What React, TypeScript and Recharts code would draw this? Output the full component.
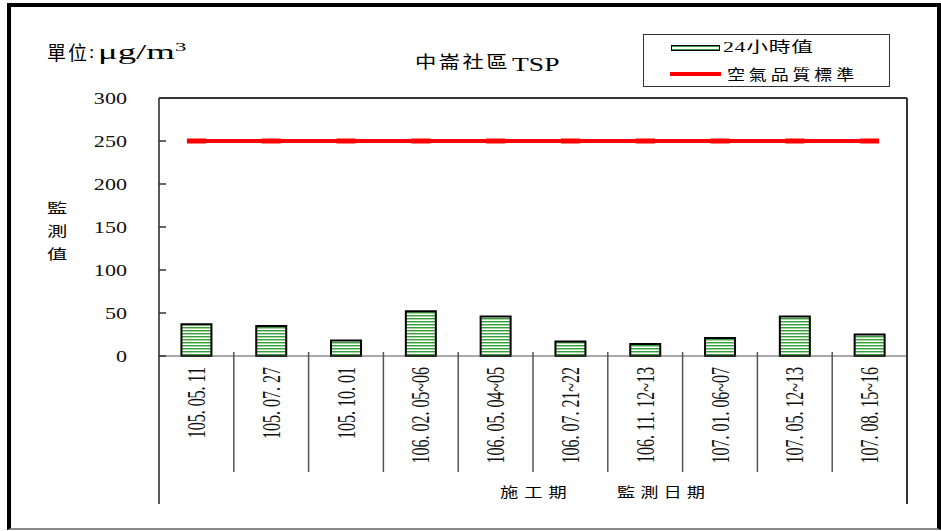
import {
  ComposedChart,
  Bar,
  Line,
  XAxis,
  YAxis,
  ReferenceLine,
} from "recharts";

const dates = [
  "105. 05. 11",
  "105. 07. 27",
  "105. 10. 01",
  "106. 02. 05~06",
  "106. 05. 04~05",
  "106. 07. 21~22",
  "106. 11. 12~13",
  "107. 01. 06~07",
  "107. 05. 12~13",
  "107. 08. 15~16",
];
const tsp24h = [37, 35, 18, 52, 46, 17, 14, 21, 46, 25];
const airStandard = [250, 250, 250, 250, 250, 250, 250, 250, 250, 250];
const yTicks = [0, 50, 100, 150, 200, 250, 300];
const yTitle = ["監", "測", "值"];

const rows = dates.map((d, i) => ({ date: d, tsp: tsp24h[i], std: airStandard[i] }));

const SERIF = "'Liberation Serif', 'Times New Roman', 'DejaVu Serif', 'Noto Sans CJK TC', serif";
const CJK = "'Noto Sans CJK TC', 'Liberation Serif', sans-serif";

// plain positioned text, stretched sideways like the source image
const Txt = ({ x, y, size, sx = 1, ls = 0, font = SERIF, children }: any) => (
  <div
    style={{
      position: "absolute",
      left: x,
      top: y,
      fontSize: size,
      lineHeight: 1,
      fontFamily: font,
      letterSpacing: ls,
      whiteSpace: "nowrap",
      color: "#000",
      transform: `scaleX(${sx})`,
      transformOrigin: "0 0",
    }}
  >
    {children}
  </div>
);

const DateTick = ({ x, y, payload, index, visibleTicksCount }: any) => {
  const half = payload.offset || 0;
  const first = index === 0;
  const last = index === visibleTicksCount - 1;
  return (
    <g>
      <line
        x1={x - half}
        x2={x - half}
        y1={first ? y : y - 4}
        y2={first ? y + 148 : y + 116}
        stroke={first ? "#222" : "#555"}
        strokeWidth={1.5}
      />
      {last && (
        <line x1={x + half} x2={x + half} y1={y} y2={y + 148} stroke="#333" strokeWidth={2} />
      )}
      <text
        transform={`translate(${x + 8.5},${y + 11}) rotate(-90) scale(1,1.6)`}
        textAnchor="end"
        fontFamily={SERIF}
        fontSize={16}
        fill="#111"
      >
        {payload.value}
      </text>
    </g>
  );
};

const ValueTick = ({ x, y, payload }: any) => (
  <g>
    <line x1={x} x2={x + 7} y1={y} y2={y} stroke="#333" strokeWidth={1.5} />
    <text
      transform={`translate(${x - 32},${y + 6}) scale(1.3,1)`}
      textAnchor="end"
      fontFamily={SERIF}
      fontSize={17}
      fill="#111"
    >
      {payload.value}
    </text>
  </g>
);

const DashDot = ({ cx, cy }: any) =>
  cx == null ? null : <rect x={cx - 9.5} y={cy - 2.5} width={19} height={5} fill="#ff0000" />;

export default function App() {
  return (
    <div style={{ position: "absolute", left: 0, top: 0, width: 941, height: 531, background: "#fff" }}>
      <ComposedChart
        width={941}
        height={531}
        data={rows}
        barCategoryGap="30%"
        margin={{ top: 98, right: 33, bottom: 27, left: 99 }}
      >
        <defs>
          <pattern id="stripes" width="4" height="3" patternUnits="userSpaceOnUse">
            <rect width="4" height="3" fill="#ffffff" />
            <rect y="0" width="4" height="1" fill="#3a9e3a" />
            <rect y="1" width="4" height="1" fill="#a6d6a6" />
          </pattern>
        </defs>
        <XAxis
          dataKey="date"
          interval={0}
          height={148}
          tickSize={0}
          tickMargin={0}
          tickLine={false}
          axisLine={{ stroke: "#555", strokeWidth: 1 }}
          tick={<DateTick />}
        />
        <YAxis
          yAxisId="v"
          domain={[0, 300]}
          ticks={yTicks}
          width={60}
          tickSize={0}
          tickMargin={0}
          tickLine={false}
          axisLine={{ stroke: "#222", strokeWidth: 1.5 }}
          tick={<ValueTick />}
        />
        <YAxis
          yAxisId="r"
          orientation="right"
          domain={[0, 300]}
          width={1}
          tick={false}
          tickLine={false}
          axisLine={{ stroke: "#333", strokeWidth: 2 }}
        />
        <ReferenceLine yAxisId="v" y={300} stroke="#333" strokeWidth={2} />
        <Bar
          yAxisId="v"
          dataKey="tsp"
          fill="url(#stripes)"
          stroke="#000"
          strokeWidth={2}
          isAnimationActive={false}
        />
        <Line
          yAxisId="v"
          dataKey="std"
          stroke="#ff0000"
          strokeWidth={4}
          dot={<DashDot />}
          activeDot={false}
          isAnimationActive={false}
        />
      </ComposedChart>

      {/* outer frame */}
      <div
        style={{
          position: "absolute",
          left: 7,
          top: 3,
          width: 934,
          height: 527,
          boxSizing: "border-box",
          borderTop: "4px solid #000",
          borderLeft: "4px solid #000",
          borderRight: "4px solid #000",
          borderBottom: "2px solid #888",
          pointerEvents: "none",
        }}
      />

      {/* unit */}
      <Txt x={47} y={42} size={19} ls={2} font={CJK}>單位</Txt>
      <Txt x={89} y={42} size={19}>:</Txt>
      <Txt x={98} y={42} size={21} sx={1.75}>
        μg/m<span style={{ fontSize: 13, verticalAlign: "top", position: "relative", top: -2 }}>3</span>
      </Txt>

      {/* title */}
      <Txt x={415} y={52} size={17} sx={1.25} ls={2} font={CJK}>中崙社區</Txt>
      <Txt x={512} y={55} size={19} sx={1.45}>TSP</Txt>

      {/* y title */}
      {yTitle.map((c, i) => (
        <Txt key={c} x={47} y={200 + i * 23} size={14} sx={1.45} font={CJK}>
          {c}
        </Txt>
      ))}

      {/* x title */}
      <Txt x={500} y={484} size={14} sx={1.3} ls={4.7} font={CJK}>施工期</Txt>
      <Txt x={617} y={484} size={14} sx={1.3} ls={3.9} font={CJK}>監測日期</Txt>

      {/* legend */}
      <div
        style={{
          position: "absolute",
          left: 643,
          top: 34,
          width: 247,
          height: 53,
          boxSizing: "border-box",
          border: "1.5px solid #333",
          background: "#fff",
        }}
      />
      <div
        style={{
          position: "absolute",
          left: 671,
          top: 45,
          width: 49,
          height: 6,
          boxSizing: "border-box",
          border: "1.5px solid #000",
          background: "repeating-linear-gradient(#3a9e3a 0 1px, #ffffff 1px 3px)",
        }}
      />
      <Txt x={723} y={40} size={15} sx={1.45} ls={0.5}>24小時值</Txt>
      <div style={{ position: "absolute", left: 670, top: 72, width: 51, height: 4, background: "#ff0000" }} />
      <Txt x={727} y={66} size={15} sx={1.2} ls={3.2} font={CJK}>空氣品質標準</Txt>
    </div>
  );
}
